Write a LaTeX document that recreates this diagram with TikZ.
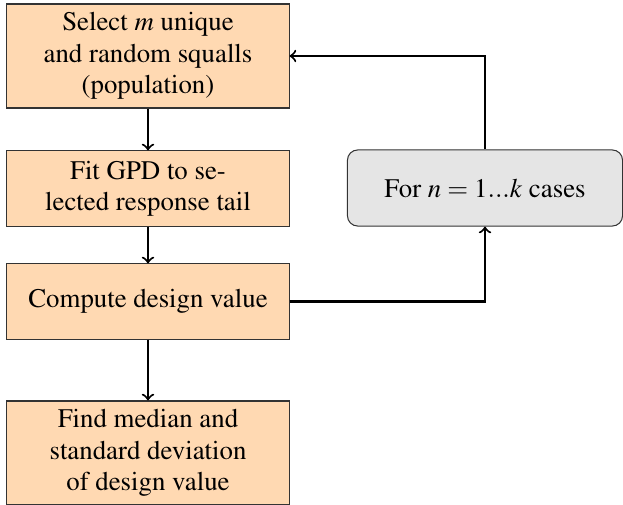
\documentclass[tikz,border=0pt]{standalone}
\usepackage[T1]{fontenc}
\usepackage{mathptmx}
\begin{document}
\begin{tikzpicture}[x=0.3875pt,y=-0.3875pt,
  stepbox/.style={draw=black!80, fill=orange!30, minimum width=109.3pt, align=center, inner sep=0pt, font=\fontsize{10.4}{12.1}\selectfont},
  loopbox/.style={draw=black!80, fill=gray!20, rounded corners=4pt, minimum width=106.6pt, minimum height=29.5pt, align=center, inner sep=0pt, font=\fontsize{10.4}{12.1}\selectfont},
  conn/.style={thick, ->, >=to}]
\useasboundingbox (0,0) rectangle (623,505);
\clip (0,0) rectangle (623,505);
\node[stepbox, minimum height=40.3pt] (s1) at (148,56) {Select $m$ unique\\and random squalls\\(population)};
\node[stepbox, minimum height=29.1pt] (s2) at (148,188.5) {Fit GPD to se-\\lected response tail};
\node[stepbox, minimum height=29.1pt] (s3) at (148,301.5) {Compute design value};
\node[stepbox, minimum height=40.3pt] (s4) at (148,453) {Find median and\\standard deviation\\of design value};
\node[loopbox] (lp) at (485,188) {For $n=1...k$ cases};
\draw[conn] (s1) -- (s2);
\draw[conn] (s2) -- (s3);
\draw[conn] (s3) -- (s4);
\draw[conn] (s3.east) -| (lp.south);
\draw[conn] (lp.north) |- (s1.east);
\end{tikzpicture}
\end{document}
